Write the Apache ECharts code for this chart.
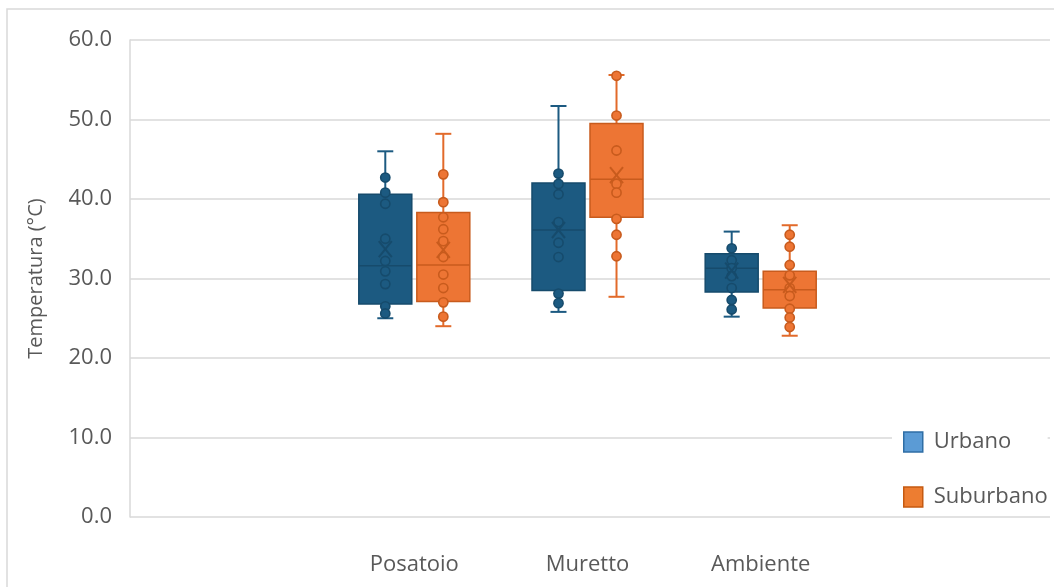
<!DOCTYPE html>
<html>
<head>
<meta charset="utf-8">
<script src="https://cdn.jsdelivr.net/npm/echarts@6/dist/echarts.min.js"></script>
<style>
  html, body { margin: 0; padding: 0; background: #fff; }
  #chart { width: 1054px; height: 587px; }
</style>
</head>
<body>
<div id="chart"></div>
<script>
// Sites where temperature was measured
const categories = ['Posatoio', 'Muretto', 'Ambiente'];
const seriesNames = ['Urbano', 'Suburbano'];

// Box statistics per site: [min, Q1, median, Q3, max]
const urbanoBox = [
  [25.0, 26.8, 31.6, 40.6, 46.0],
  [25.8, 28.5, 36.1, 42.0, 51.7],
  [25.2, 28.3, 31.3, 33.1, 35.9]
];
const suburbanoBox = [
  [24.0, 27.1, 31.7, 38.3, 48.2],
  [27.7, 37.7, 42.5, 49.5, 55.6],
  [22.8, 26.3, 28.6, 30.9, 36.7]
];

// Means per site
const urbanoMean = [33.7, 36.1, 31.0];
const suburbanoMean = [33.6, 43.0, 29.2];

// Individual readings per site
const urbanoPoints = [
  [42.7, 40.8, 39.4, 35.0, 32.2, 30.9, 29.3, 26.5, 25.6],
  [43.2, 41.9, 40.6, 37.1, 34.5, 32.7, 28.1, 26.9],
  [33.8, 32.3, 31.3, 30.3, 28.8, 27.3, 26.1]
];
const suburbanoPoints = [
  [43.1, 39.6, 37.7, 36.2, 34.7, 32.7, 30.5, 28.8, 27.0, 25.2],
  [55.5, 50.5, 46.1, 41.9, 40.8, 37.5, 35.5, 32.8],
  [35.5, 34.0, 31.7, 30.4, 28.8, 27.8, 26.2, 25.1, 23.9]
];

// Y axis range
const yMin = 0, yMax = 60, yStep = 10;

const FONT = '"Open Sans", "Noto Sans", sans-serif';
const TEXT = '#595959';
const GRID = '#d9d9d9';

const styles = {
  Urbano:    { fill: '#1c5a81', stroke: '#164b6c', whisker: '#1c5a81', legendFill: '#5b9bd5', legendStroke: '#2f6ea5' },
  Suburbano: { fill: '#ed7534', stroke: '#c85b1d', whisker: '#e26a2a', legendFill: '#ed7d31', legendStroke: '#c55a11' }
};

function buildData(box, mean) {
  return box.map((b, i) => [i].concat(b, [mean[i]]));
}

function makeRenderer(name, points, offsetFrac) {
  const st = styles[name];
  return function (params, api) {
    const ci = api.value(0);
    const band = api.size([1, 0])[0];
    const cx = api.coord([ci, 0])[0] + offsetFrac * band;
    const w = 0.306 * band;
    const y = v => api.coord([ci, v])[1];
    const vMin = api.value(1), q1 = api.value(2), med = api.value(3), q3 = api.value(4), vMax = api.value(5), mean = api.value(6);
    const capHalf = 8;
    const children = [];
    const lineStyle = { stroke: st.whisker, lineWidth: 2 };
    // whiskers and caps
    children.push({ type: 'line', shape: { x1: cx, y1: y(q3), x2: cx, y2: y(vMax) }, style: lineStyle });
    children.push({ type: 'line', shape: { x1: cx, y1: y(q1), x2: cx, y2: y(vMin) }, style: lineStyle });
    children.push({ type: 'line', shape: { x1: cx - capHalf, y1: y(vMax), x2: cx + capHalf, y2: y(vMax) }, style: lineStyle });
    children.push({ type: 'line', shape: { x1: cx - capHalf, y1: y(vMin), x2: cx + capHalf, y2: y(vMin) }, style: lineStyle });
    // box
    children.push({
      type: 'rect',
      shape: { x: cx - w / 2, y: y(q3), width: w, height: y(q1) - y(q3) },
      style: { fill: st.fill, stroke: st.stroke, lineWidth: 1.5 }
    });
    // median
    children.push({ type: 'line', shape: { x1: cx - w / 2, y1: y(med), x2: cx + w / 2, y2: y(med) }, style: { stroke: st.stroke, lineWidth: 1.5 } });
    // readings
    (points[params.dataIndex] || []).forEach(v => {
      children.push({
        type: 'circle',
        shape: { cx: cx, cy: y(v), r: 4.6 },
        style: { fill: st.fill, stroke: st.stroke, lineWidth: 1.6 }
      });
    });
    // mean marker
    const ym = y(mean);
    children.push({ type: 'line', shape: { x1: cx - 6.5, y1: ym - 8, x2: cx + 6.5, y2: ym + 8 }, style: { stroke: st.stroke, lineWidth: 2 } });
    children.push({ type: 'line', shape: { x1: cx + 6.5, y1: ym - 8, x2: cx - 6.5, y2: ym + 8 }, style: { stroke: st.stroke, lineWidth: 2 } });
    return { type: 'group', children: children };
  };
}

const chart = echarts.init(document.getElementById('chart'), null, { renderer: 'canvas' });

chart.setOption({
  backgroundColor: '#fff',
  animation: false,
  textStyle: { fontFamily: FONT },
  graphic: [{
    type: 'rect', silent: true, z: -10,
    shape: { x: 7, y: 9, width: 1200, height: 800 },
    style: { fill: 'none', stroke: GRID, lineWidth: 1.5 }
  }],
  legend: {
    orient: 'vertical',
    left: 892,
    top: 427,
    padding: [4, 0, 4, 11],
    backgroundColor: '#fff',
    itemWidth: 19,
    itemHeight: 20,
    itemGap: 33,
    textStyle: { fontSize: 22, color: TEXT, fontFamily: FONT, padding: [0, 0, 0, 6] },
    data: seriesNames.map(n => ({
      name: n,
      icon: 'rect',
      itemStyle: { color: styles[n].legendFill, borderColor: styles[n].legendStroke, borderWidth: 1.5 }
    })),
    z: 10
  },
  grid: [
    { left: 130, right: 4, top: 40, bottom: 70 },
    { left: 327.7, width: 519.6, top: 40, bottom: 70 }
  ],
  xAxis: [
    { type: 'value', gridIndex: 0, show: false, min: 0, max: 1 },
    {
      type: 'category', gridIndex: 1, data: categories, boundaryGap: true,
      axisLine: { show: false }, axisTick: { show: false }, splitLine: { show: false },
      axisLabel: { fontSize: 22, color: TEXT, margin: 37, fontFamily: FONT }
    }
  ],
  yAxis: [
    {
      type: 'value', gridIndex: 0, min: yMin, max: yMax, interval: yStep,
      axisLine: { show: true, lineStyle: { color: GRID, width: 1.5 } },
      axisTick: { show: false },
      splitLine: { lineStyle: { color: GRID, width: 1.5 } },
      axisLabel: { fontSize: 22, color: TEXT, margin: 18, fontFamily: FONT, formatter: v => v.toFixed(1) },
      name: 'Temperatura (°C)',
      nameLocation: 'middle',
      nameGap: 84,
      nameTextStyle: { fontSize: 20, color: TEXT, fontFamily: FONT }
    },
    { type: 'value', gridIndex: 1, min: yMin, max: yMax, show: false }
  ],
  series: [
    {
      name: 'Urbano', type: 'custom', xAxisIndex: 1, yAxisIndex: 1,
      data: buildData(urbanoBox, urbanoMean),
      encode: { x: 0, y: [1, 2, 3, 4, 5, 6] },
      itemStyle: { color: styles.Urbano.legendFill },
      renderItem: makeRenderer('Urbano', urbanoPoints, -0.1675)
    },
    {
      name: 'Suburbano', type: 'custom', xAxisIndex: 1, yAxisIndex: 1,
      data: buildData(suburbanoBox, suburbanoMean),
      encode: { x: 0, y: [1, 2, 3, 4, 5, 6] },
      itemStyle: { color: styles.Suburbano.legendFill },
      renderItem: makeRenderer('Suburbano', suburbanoPoints, 0.1675)
    }
  ]
});
</script>
</body>
</html>
